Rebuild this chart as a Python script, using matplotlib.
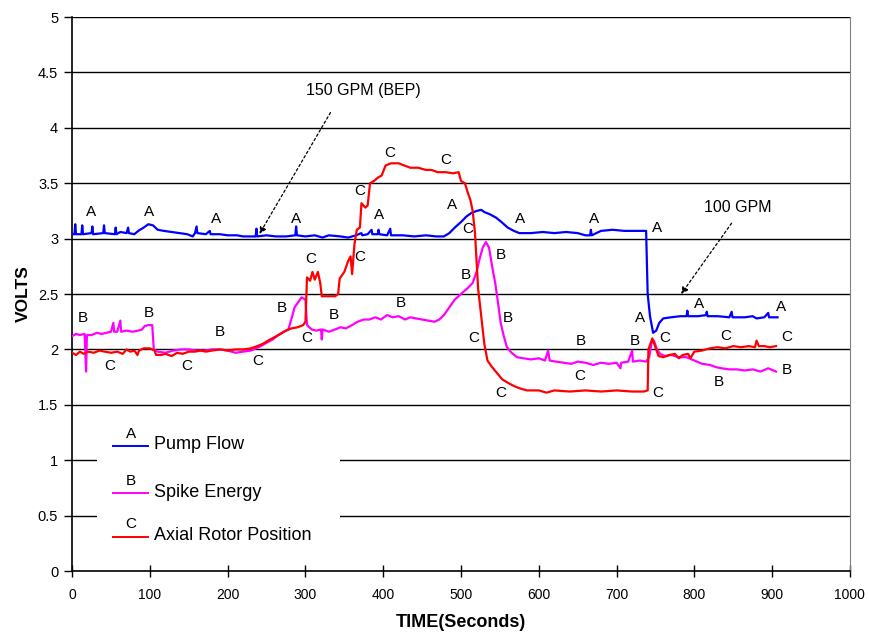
import matplotlib
matplotlib.use("Agg")
from matplotlib import pyplot as plt
from matplotlib.patches import Rectangle

plt.rcParams['font.family'] = ['Liberation Sans', 'DejaVu Sans']

# Pump Flow (A)
flow_t = [0, 3, 4, 5, 12, 13, 14, 25, 26, 27, 40, 41, 42, 55, 56, 57, 62, 70, 72, 73, 80, 85, 92, 98,
          104, 110, 118, 128, 138, 148, 155, 158, 160, 161, 172, 177, 178, 190, 200, 212, 220, 230,
          236, 237, 238, 250, 262, 275, 287, 288, 289, 300, 312, 322, 330, 345, 355, 365, 372, 373,
          380, 385, 386, 393, 394, 395, 405, 409, 410, 425, 440, 455, 468, 478, 485, 492, 500, 507,
          513, 520, 526, 530, 537, 545, 552, 560, 568, 575, 590, 605, 620, 635, 650, 660, 666, 667,
          668, 680, 695, 710, 725, 738, 740, 743, 747, 751, 755, 760, 770, 782, 790, 791, 792, 805,
          815, 816, 817, 830, 845, 848, 849, 865, 875, 880, 890, 895, 896, 907]
flow_v = [3.04, 3.04, 3.13, 3.04, 3.04, 3.12, 3.04, 3.05, 3.11, 3.04, 3.05, 3.12, 3.05, 3.04, 3.10,
          3.04, 3.06, 3.05, 3.10, 3.05, 3.04, 3.07, 3.10, 3.13, 3.12, 3.08, 3.07, 3.06, 3.05, 3.04,
          3.02, 3.05, 3.11, 3.05, 3.04, 3.07, 3.04, 3.04, 3.03, 3.03, 3.02, 3.02, 3.02, 3.09, 3.02,
          3.03, 3.02, 3.02, 3.03, 3.11, 3.03, 3.02, 3.03, 3.01, 3.03, 3.02, 3.01, 3.03, 3.05, 3.03,
          3.04, 3.08, 3.04, 3.04, 3.08, 3.04, 3.03, 3.09, 3.03, 3.03, 3.02, 3.03, 3.02, 3.02, 3.05,
          3.10, 3.15, 3.20, 3.23, 3.25, 3.26, 3.24, 3.22, 3.19, 3.15, 3.10, 3.07, 3.05, 3.05, 3.06,
          3.05, 3.06, 3.05, 3.03, 3.03, 3.08, 3.03, 3.07, 3.08, 3.07, 3.07, 3.07, 2.50, 2.30, 2.15,
          2.17, 2.24, 2.28, 2.29, 2.30, 2.30, 2.35, 2.30, 2.30, 2.31, 2.34, 2.30, 2.30, 2.29, 2.34,
          2.29, 2.29, 2.30, 2.28, 2.29, 2.33, 2.29, 2.29]

# Spike Energy (B)
spike_t = [0, 5, 10, 16, 18, 19, 25, 32, 38, 44, 50, 53, 54, 58, 62, 63, 70, 78, 85, 90, 93, 98, 103,
           105, 110, 120, 130, 140, 150, 160, 170, 180, 190, 200, 210, 220, 230, 240, 250, 258, 265,
           272, 278, 283, 286, 290, 295, 300, 302, 308, 314, 320, 321, 322, 330, 338, 345, 352, 360,
           367, 375, 382, 390, 397, 405, 412, 420, 428, 435, 442, 450, 458, 466, 472, 478, 485, 492,
           500, 508, 515, 520, 524, 528, 532, 536, 540, 544, 548, 551, 555, 559, 565, 572, 580, 590,
           600, 608, 612, 614, 622, 632, 642, 650, 660, 670, 680, 690, 700, 705, 706, 715, 720, 721,
           730, 738, 742, 745, 748, 752, 756, 762, 770, 780, 790, 800, 810, 820, 828, 835, 845, 855,
           865, 875, 885, 895, 905]
spike_v = [2.12, 2.14, 2.13, 2.14, 1.80, 2.13, 2.13, 2.15, 2.14, 2.15, 2.16, 2.24, 2.16, 2.16, 2.26,
           2.16, 2.17, 2.16, 2.17, 2.18, 2.21, 2.22, 2.22, 2.00, 1.98, 1.97, 1.99, 2.00, 2.00, 1.99,
           1.99, 2.00, 2.00, 1.99, 1.97, 1.98, 1.99, 2.02, 2.06, 2.09, 2.13, 2.16, 2.18, 2.30, 2.38,
           2.42, 2.47, 2.45, 2.22, 2.18, 2.17, 2.18, 2.09, 2.18, 2.16, 2.18, 2.20, 2.19, 2.22, 2.25,
           2.27, 2.27, 2.29, 2.27, 2.31, 2.29, 2.30, 2.27, 2.29, 2.28, 2.27, 2.26, 2.25, 2.27, 2.31,
           2.38, 2.45, 2.50, 2.55, 2.60, 2.70, 2.82, 2.92, 2.97, 2.92, 2.75, 2.60, 2.40, 2.24, 2.12,
           2.02, 1.97, 1.93, 1.92, 1.91, 1.92, 1.90, 1.99, 1.90, 1.89, 1.88, 1.87, 1.89, 1.88, 1.86,
           1.88, 1.87, 1.88, 1.83, 1.88, 1.89, 1.99, 1.89, 1.90, 1.89, 1.93, 2.06, 2.08, 2.00, 1.96,
           1.94, 1.95, 1.93, 1.93, 1.90, 1.87, 1.86, 1.84, 1.83, 1.82, 1.82, 1.81, 1.82, 1.80, 1.83,
           1.80]

# Axial Rotor Position (C)
rotor_t = [0, 5, 10, 15, 20, 28, 35, 42, 50, 58, 65, 70, 75, 80, 84, 86, 92, 100, 106, 108, 114, 120,
           128, 135, 142, 150, 158, 165, 172, 180, 190, 200, 210, 220, 230, 238, 245, 252, 260, 268,
           275, 282, 290, 297, 300, 302, 306, 309, 312, 316, 319, 321, 330, 338, 342, 344, 350, 355,
           358, 360, 363, 366, 370, 372, 377, 380, 383, 388, 393, 398, 403, 410, 420, 427, 435, 445,
           455, 462, 470, 480, 490, 497, 500, 505, 509, 512, 515, 518, 520, 522, 526, 530, 534, 540,
           547, 553, 560, 568, 575, 585, 600, 610, 620, 640, 660, 680, 700, 720, 735, 740, 741, 746,
           750, 754, 760, 768, 775, 780, 785, 792, 795, 800, 810, 820, 830, 840, 850, 860, 870, 878,
           880, 883, 890, 897, 905]
rotor_v = [1.97, 1.95, 1.98, 1.96, 1.98, 1.97, 1.99, 1.98, 1.97, 1.98, 1.96, 2.00, 1.98, 1.99, 1.95,
           1.99, 2.01, 2.01, 1.99, 1.95, 1.95, 1.96, 1.94, 1.97, 1.96, 1.98, 1.98, 1.99, 1.98, 1.99,
           2.00, 1.99, 2.00, 2.00, 2.01, 2.03, 2.05, 2.08, 2.11, 2.14, 2.17, 2.19, 2.20, 2.22, 2.25,
           2.65, 2.62, 2.70, 2.63, 2.70, 2.60, 2.48, 2.48, 2.48, 2.50, 2.64, 2.70, 2.80, 2.84, 2.68,
           2.95, 3.08, 3.10, 3.32, 3.28, 3.30, 3.50, 3.52, 3.55, 3.57, 3.66, 3.68, 3.68, 3.66, 3.64,
           3.64, 3.62, 3.62, 3.60, 3.60, 3.59, 3.60, 3.52, 3.50, 3.41, 3.35, 3.25, 3.05, 2.80, 2.55,
           2.30, 2.05, 1.90, 1.84, 1.78, 1.73, 1.70, 1.67, 1.65, 1.63, 1.63, 1.61, 1.63, 1.62, 1.63,
           1.62, 1.63, 1.62, 1.62, 1.63, 2.00, 2.10, 2.02, 1.94, 1.93, 1.95, 1.96, 1.92, 1.95, 1.96,
           1.92, 1.98, 1.99, 2.01, 2.02, 2.01, 2.03, 2.02, 2.03, 2.02, 2.08, 2.03, 2.03, 2.02, 2.03]

series_names = ["Pump Flow", "Spike Energy", "Axial Rotor Position"]
series_letters = ["A", "B", "C"]
series_colors = ["#0000ff", "#ff00ff", "#ff0000"]

# letter tags along the curves (time, volts)
tags_a = [(24, 3.24), (99, 3.24), (185, 3.18), (288, 3.18), (395, 3.21), (488, 3.30), (576, 3.18),
          (671, 3.18), (752, 3.10), (730, 2.28), (806, 2.41), (911, 2.38)]
tags_b = [(14, 2.28), (99, 2.33), (190, 2.16), (269, 2.37), (336, 2.31), (422, 2.42), (506, 2.67),
          (551, 2.85), (560, 2.28), (654, 2.08), (724, 2.08), (832, 1.71), (919, 1.81)]
tags_c = [(49, 1.85), (147, 1.85), (239, 1.90), (307, 2.82), (302, 2.10), (370, 3.43), (370, 2.83),
          (409, 3.77), (481, 3.71), (509, 3.09), (516, 2.10), (551, 1.61), (653, 1.76), (753, 1.61),
          (762, 2.10), (841, 2.12), (919, 2.11)]

fig = plt.figure(figsize=(8.69, 6.32), dpi=100)
ax = fig.add_axes([0.083, 0.0965, 0.895, 0.8765])

ax.set_xlim(0, 1000)
ax.set_ylim(0, 5)
yticks = [0, 0.5, 1, 1.5, 2, 2.5, 3, 3.5, 4, 4.5, 5]
ax.set_yticks(yticks)
ax.set_yticklabels(["0", "0.5", "1", "1.5", "2", "2.5", "3", "3.5", "4", "4.5", "5"])
ax.set_xticks(range(0, 1001, 100))
for y in yticks[1:]:
    ax.axhline(y, color="black", lw=1.0, zorder=1)

ax.tick_params(axis="y", direction="out", length=6, width=1, labelsize=10.5, pad=4)
ax.tick_params(axis="x", direction="inout", length=8, width=1, labelsize=10, pad=8)
ax.spines["top"].set_visible(False)
ax.spines["right"].set_color("#808080")
for s in ["left", "bottom"]:
    ax.spines[s].set_linewidth(1.2)

for t, v, c in zip([flow_t, spike_t, rotor_t], [flow_v, spike_v, rotor_v], series_colors):
    ax.plot(t, v, color=c, lw=1.6, zorder=3)

for letter, tags in zip(series_letters, [tags_a, tags_b, tags_c]):
    for t, v in tags:
        ax.text(t, v, letter, ha="center", va="center", fontsize=11, zorder=4)

# annotations
ax.text(374, 4.34, "150 GPM (BEP)", ha="center", va="center", fontsize=11.5)
ax.annotate("", xy=(239, 3.02), xytext=(334, 4.16),
            arrowprops=dict(arrowstyle="-|>", color="black", lw=0.9, linestyle=(0, (2, 2)),
                            mutation_scale=10))
ax.text(856, 3.28, "100 GPM", ha="center", va="center", fontsize=11.5)
ax.annotate("", xy=(781, 2.48), xytext=(850, 3.16),
            arrowprops=dict(arrowstyle="-|>", color="black", lw=0.9, linestyle=(0, (2, 2)),
                            mutation_scale=10))

# legend box (white patch over the grid)
ax.add_patch(Rectangle((32, 0.12), 312, 1.27, facecolor="white", edgecolor="none", zorder=2))
leg_y = [1.13, 0.70, 0.31]
for name, letter, color, y in zip(series_names, series_letters, series_colors, leg_y):
    ax.plot([53, 98], [y, y], color=color, lw=1.4, zorder=3)
    ax.text(76, y + 0.11, letter, ha="center", va="center", fontsize=11, zorder=4)
    ax.text(105, y + 0.01, name, ha="left", va="center", fontsize=13, zorder=4)

ax.set_xlabel("TIME(Seconds)", fontsize=13, fontweight="bold", labelpad=9)
ax.set_ylabel("VOLTS", fontsize=12.5, fontweight="bold", labelpad=5)

fig.savefig("out.png", dpi=100)
